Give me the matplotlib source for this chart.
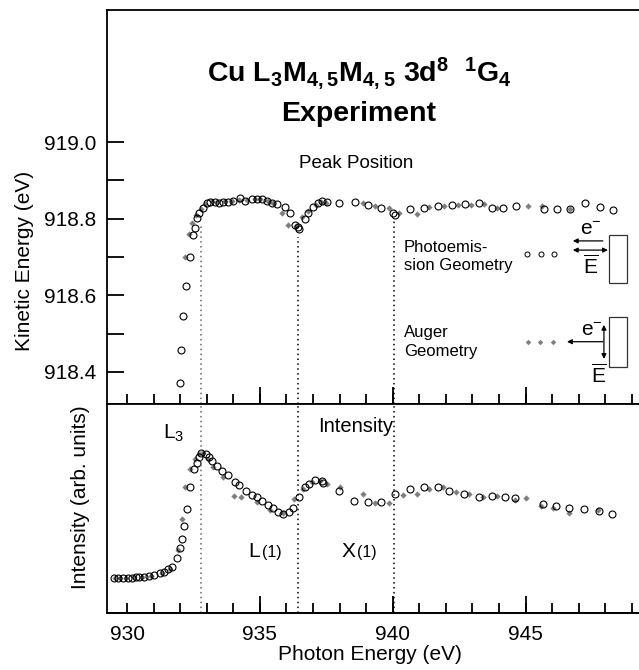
import numpy as np
import matplotlib
matplotlib.use('Agg')
import matplotlib.pyplot as plt
from matplotlib.ticker import FixedLocator, NullLocator
from matplotlib.patches import Rectangle

plt.rcParams['font.family'] = ['Liberation Sans', 'DejaVu Sans']
plt.rcParams['mathtext.default'] = 'regular'
plt.rcParams['axes.formatter.useoffset'] = False

# --- data ---
# peak position, photoemission geometry (open circles)
pe_top_x = [931.99, 932.03, 932.12, 932.22, 932.37, 932.49, 932.56, 932.62, 932.72, 932.87,
            933.00, 933.12, 933.31, 933.47, 933.62, 933.81, 934.00, 934.25, 934.44, 934.69,
            934.88, 935.07, 935.25, 935.44, 935.63, 935.94, 936.13, 936.32, 936.44, 936.48,
            936.70, 936.82, 937.01, 937.18, 937.32, 937.51, 937.98, 938.58, 939.08, 939.56,
            940.02, 940.08, 940.65, 941.19, 941.71, 942.22, 942.72, 943.24, 943.72, 944.16,
            944.64, 945.70, 946.17, 946.67, 947.23, 947.80, 948.30]
pe_top_y = [918.371, 918.457, 918.546, 918.624, 918.700, 918.757, 918.775, 918.801, 918.814, 918.827,
            918.840, 918.844, 918.844, 918.842, 918.844, 918.843, 918.847, 918.853, 918.847, 918.851,
            918.852, 918.851, 918.846, 918.842, 918.838, 918.830, 918.814, 918.783, 918.779, 918.774,
            918.800, 918.816, 918.831, 918.841, 918.846, 918.843, 918.842, 918.844, 918.836, 918.827,
            918.814, 918.810, 918.824, 918.827, 918.834, 918.836, 918.837, 918.840, 918.827, 918.827,
            918.833, 918.825, 918.825, 918.825, 918.840, 918.830, 918.823]

# peak position, Auger geometry (grey diamonds)
au_top_x = [932.18, 932.33, 932.45, 932.60, 932.77, 932.95, 933.20, 933.40, 933.70, 933.95,
            934.20, 934.50, 934.80, 935.00, 935.30, 935.50, 935.82, 936.06, 936.35, 936.60,
            936.80, 937.10, 937.30, 937.50, 938.89, 939.33, 939.87, 940.24, 940.92, 941.37,
            941.93, 942.46, 942.93, 943.43, 943.93, 945.08, 945.63, 946.67]
au_top_y = [918.700, 918.759, 918.790, 918.810, 918.826, 918.838, 918.846, 918.843, 918.845, 918.846,
            918.850, 918.849, 918.852, 918.851, 918.845, 918.840, 918.816, 918.783, 918.780, 918.805,
            918.820, 918.835, 918.843, 918.842, 918.842, 918.833, 918.827, 918.816, 918.812, 918.830,
            918.833, 918.836, 918.836, 918.837, 918.827, 918.833, 918.834, 918.825]

# intensity (arb. units), photoemission geometry
pe_int_x = [929.51, 929.67, 929.86, 930.05, 930.17, 930.33, 930.46, 930.65, 930.84, 931.02,
            931.24, 931.40, 931.55, 931.68, 931.87, 931.99, 932.05, 932.15, 932.24, 932.37,
            932.53, 932.62, 932.71, 932.78, 932.97, 933.09, 933.21, 933.37, 933.58, 933.79,
            934.06, 934.22, 934.46, 934.69, 934.88, 935.09, 935.29, 935.48, 935.69, 935.88,
            936.09, 936.26, 936.48, 936.70, 936.86, 937.07, 937.32, 937.38, 937.98, 938.55,
            939.06, 939.56, 940.08, 940.65, 941.19, 941.69, 942.13, 942.68, 943.23, 943.72,
            944.22, 944.60, 945.66, 946.14, 946.64, 947.20, 947.76, 948.26]
pe_int_y = [0.166, 0.166, 0.166, 0.169, 0.169, 0.171, 0.171, 0.174, 0.177, 0.182,
            0.190, 0.198, 0.209, 0.222, 0.262, 0.310, 0.353, 0.418, 0.496, 0.604,
            0.689, 0.719, 0.745, 0.764, 0.761, 0.745, 0.729, 0.705, 0.679, 0.660,
            0.628, 0.612, 0.584, 0.565, 0.554, 0.537, 0.517, 0.501, 0.485, 0.474,
            0.485, 0.501, 0.556, 0.601, 0.617, 0.636, 0.632, 0.621, 0.584, 0.537,
            0.530, 0.533, 0.568, 0.592, 0.605, 0.604, 0.584, 0.568, 0.554, 0.560,
            0.554, 0.549, 0.520, 0.512, 0.501, 0.496, 0.488, 0.474]

# intensity (arb. units), Auger geometry
au_int_x = [929.55, 929.75, 929.95, 930.25, 930.55, 930.90, 931.30, 931.60, 931.90, 932.05,
            932.18, 932.37, 932.55, 932.70, 932.87, 933.05, 933.24, 933.62, 934.03, 934.28,
            934.88, 935.38, 935.87, 936.28, 936.63, 936.95, 937.25, 937.53, 938.01, 938.87,
            939.34, 939.87, 940.40, 940.90, 941.37, 941.90, 942.40, 942.88, 943.41, 943.93,
            944.60, 945.00, 945.57, 946.04, 946.64, 947.73]
au_int_y = [0.166, 0.166, 0.168, 0.170, 0.173, 0.178, 0.190, 0.210, 0.300, 0.450,
            0.601, 0.688, 0.735, 0.760, 0.767, 0.735, 0.697, 0.652, 0.561, 0.556,
            0.533, 0.493, 0.478, 0.544, 0.592, 0.628, 0.630, 0.616, 0.601, 0.568,
            0.528, 0.528, 0.565, 0.568, 0.592, 0.604, 0.580, 0.568, 0.556, 0.560,
            0.541, 0.552, 0.512, 0.501, 0.480, 0.493]

# dotted marker lines (photon energy) and where they start in the top panel
mark_x = [932.8, 936.45, 940.05]
mark_top = [918.785, 918.752, 918.800]

x_labels = [930, 935, 940, 945]   # labelled ticks
x_long = [935, 940, 945]          # ticks drawn long
ke_ticks = [918.4, 918.6, 918.8, 919.0]
ke_minor = [918.5, 918.7, 918.9]

XLIM = (929.244, 949.27)
KE_LIM = (918.3165, 919.3444)

W, H = 639, 670
fig = plt.figure(figsize=(W / 100, H / 100), dpi=100)
ax1 = fig.add_axes([107 / W, 1 - 404 / H, 1 - 107 / W, (404 - 10) / H])
ax2 = fig.add_axes([107 / W, 1 - 613 / H, 1 - 107 / W, (613 - 404) / H])

circ = dict(ls='none', marker='o', ms=5.0, mfc='none', mec='black', mew=0.8)
diam = dict(ls='none', marker='D', ms=3.2, mfc='#7f7f7f', mec='none')

# top panel
ax1.plot(au_top_x, au_top_y, **diam)
ax1.plot(pe_top_x, pe_top_y, **circ)
for xv, top, c in zip(mark_x, mark_top, ['#666666', 'black', 'black']):
    ax1.plot([xv, xv], [KE_LIM[0], top], color=c, lw=1.1, ls=(0, (1, 2.2)))
ax1.set_xlim(*XLIM)
ax1.set_ylim(*KE_LIM)
ax1.yaxis.set_major_locator(FixedLocator(ke_ticks))
ax1.yaxis.set_minor_locator(FixedLocator(ke_minor))

# bottom panel
ax2.plot(au_int_x, au_int_y, **diam)
ax2.plot(pe_int_x, pe_int_y, **circ)
for xv, c in zip(mark_x, ['#666666', 'black', 'black']):
    ax2.axvline(xv, color=c, lw=1.1, ls=(0, (1, 2.2)))
ax2.set_xlim(*XLIM)
ax2.set_ylim(0, 1)
ax2.yaxis.set_major_locator(NullLocator())

minor_x = [v for v in range(930, 950) if v not in x_labels]
for ax in (ax1, ax2):
    ax.spines['right'].set_visible(False)
    for s in ('left', 'top', 'bottom'):
        ax.spines[s].set_linewidth(1.3)
    ax.xaxis.set_major_locator(FixedLocator(x_labels))
    ax.xaxis.set_minor_locator(FixedLocator(minor_x))
    ax.tick_params(axis='both', which='both', direction='in', bottom=True, left=True,
                   top=False, right=False, width=1.3, colors='black', labelsize=15)
    ax.tick_params(axis='x', which='both', length=7, pad=9)
    ax.tick_params(axis='y', which='both', length=12, pad=8)
    # long ticks at 935/940/945 via a second bottom axis
    sec = ax.secondary_xaxis('bottom')
    sec.xaxis.set_major_locator(FixedLocator(x_long))
    sec.tick_params(axis='x', direction='in', length=12, width=1.3, colors='black',
                    labelbottom=False)
    sec.spines['bottom'].set_linewidth(1.3)

ax1.tick_params(axis='x', which='both', labelbottom=False)

# labels
fig.text(370 / W, 1 - 654 / H, 'Photon Energy (eV)', ha='center', va='center', fontsize=15)
fig.text(25 / W, 1 - 261 / H, 'Kinetic Energy (eV)', rotation=90, ha='center', va='center', fontsize=15)
fig.text(80 / W, 1 - 497 / H, 'Intensity (arb. units)', rotation=90, ha='center', va='center', fontsize=15)

fig.text(359 / W, 1 - 81.5 / H, r'Cu L$_3$M$_{4,5}$M$_{4,5}$ 3d$^8$  $^1$G$_4$',
         ha='center', va='baseline', fontsize=20.5, fontweight='bold')
fig.text(359 / W, 1 - 121 / H, 'Experiment', ha='center', va='baseline', fontsize=20.5, fontweight='bold')

ax1.text(938.62, 918.945, 'Peak Position', ha='center', va='center', fontsize=13.5)
ax2.text(938.62, 0.89, 'Intensity', ha='center', va='center', fontsize=14.5)
ax2.text(931.36, 0.833, r'L$_3$', ha='left', va='baseline', fontsize=15)
ax2.text(934.55, 0.27, 'L', ha='left', va='baseline', fontsize=15)
ax2.text(935.06, 0.27, '(1)', ha='left', va='baseline', fontsize=11.5)
ax2.text(938.08, 0.27, 'X', ha='left', va='baseline', fontsize=15)
ax2.text(938.66, 0.27, '(1)', ha='left', va='baseline', fontsize=11.5)

# legend-like key on the right of the top panel
ax1.text(940.42, 918.701, 'Photoemis-\nsion Geometry', ha='left', va='center', fontsize=12, linespacing=1.3)
ax1.text(940.42, 918.478, 'Auger\nGeometry', ha='left', va='center', fontsize=12, linespacing=1.3)
ax1.plot([945.05, 945.58, 946.07], [918.708] * 3, ls='none', marker='o', ms=3.6,
         mfc='none', mec='black', mew=0.7)
ax1.plot([945.09, 945.54, 946.03], [918.478] * 3, ls='none', marker='D', ms=2.8,
         mfc='#7f7f7f', mec='none')

arr = dict(arrowstyle='-|>', lw=0.9, color='black', mutation_scale=7, shrinkA=0, shrinkB=0)
arr2 = dict(arrowstyle='<|-|>', lw=0.9, color='black', mutation_scale=7, shrinkA=0, shrinkB=0)
# photoemission
ax1.annotate('', xy=(946.78, 918.742), xytext=(947.91, 918.742), arrowprops=arr)
ax1.annotate('', xy=(946.78, 918.718), xytext=(948.10, 918.718), arrowprops=arr2)
ax1.add_patch(Rectangle((948.14, 918.632), 0.67, 0.125, fill=False, lw=0.9, ec='#333333'))
ax1.text(947.45, 918.746, r'e$^{-}$', ha='center', va='bottom', fontsize=15)
ax1.text(947.45, 918.706, r'$\overline{E}$', ha='center', va='top', fontsize=15)
# Auger
ax1.annotate('', xy=(946.56, 918.479), xytext=(947.91, 918.479), arrowprops=arr)
ax1.annotate('', xy=(947.95, 918.434), xytext=(947.95, 918.523), arrowprops=arr2)
ax1.add_patch(Rectangle((948.14, 918.413), 0.67, 0.130, fill=False, lw=0.9, ec='#333333'))
ax1.text(947.50, 918.483, r'e$^{-}$', ha='center', va='bottom', fontsize=15)
ax1.text(947.78, 918.422, r'$\overline{E}$', ha='center', va='top', fontsize=15)

fig.savefig('out.png', dpi=100)
